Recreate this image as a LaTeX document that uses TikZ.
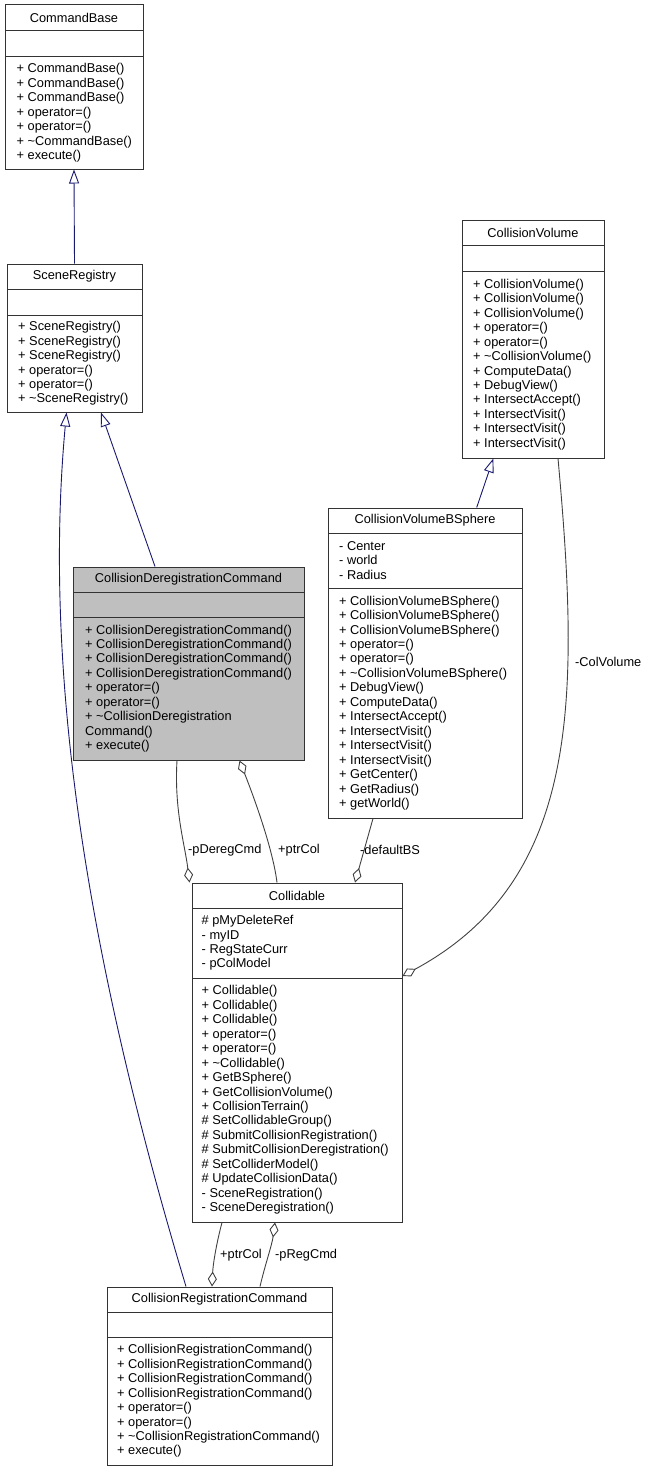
\documentclass[tikz,border=0pt]{standalone}
\usepackage{fontspec}
\setmainfont{Liberation Sans}
\usetikzlibrary{arrows.meta}

\definecolor{inhblue}{RGB}{25,25,112}
\definecolor{boxgray}{RGB}{191,191,191}
\definecolor{usegray}{RGB}{64,64,64}

\tikzset{
  classbox/.style={draw=black!80, line width=1pt, inner sep=0pt, fill=white},
  divider/.style={draw=black!80, line width=1pt},
  classname/.style={inner sep=0pt, font=\fontsize{12.8}{14.45}\selectfont},
  members/.style={anchor=west, inner sep=0pt, align=left, font=\fontsize{12.8}{14.45}\selectfont},
  rolename/.style={anchor=west, inner sep=0pt, font=\fontsize{12.8}{14.45}\selectfont},
  inherit/.style={draw=inhblue, line width=0.9pt, -{Triangle[open,length=14pt,width=10pt]}},
  usage/.style={draw=usegray, line width=0.9pt, -{Diamond[open,length=15pt,width=9pt]}},
}

\begin{document}
\begin{tikzpicture}[x=1pt,y=-1pt]
\useasboundingbox (0,0) rectangle (648,1472);

% CommandBase
\node[classbox, minimum width=138pt, minimum height=164pt] (CB) at (74,87) {};
\draw[divider] (5,31) -- (143,31);
\draw[divider] (5,57) -- (143,57);
\node[classname] (CBname) at (74,18) {CommandBase};
\node[members] (CBops) at (16.5,113) {+ CommandBase()\\+ CommandBase()\\+ CommandBase()\\+ operator=()\\+ operator=()\\+ \textasciitilde CommandBase()\\+ execute()};

% SceneRegistry
\node[classbox, minimum width=135pt, minimum height=148pt] (SR) at (74.5,338) {};
\draw[divider] (7,289) -- (142,289);
\draw[divider] (7,315) -- (142,315);
\node[classname] (SRname) at (74.5,276.5) {SceneRegistry};
\node[members] (SRops) at (18,363.5) {+ SceneRegistry()\\+ SceneRegistry()\\+ SceneRegistry()\\+ operator=()\\+ operator=()\\+ \textasciitilde SceneRegistry()};

% CollisionDeregistrationCommand
\node[classbox, fill=boxgray, minimum width=231pt, minimum height=193pt] (CDC) at (188.5,663.5) {};
\draw[divider] (73,592) -- (304,592);
\draw[divider] (73,617) -- (304,617);
\node[classname] (CDCname) at (188.5,579.5) {CollisionDeregistrationCommand};
\node[members] (CDCops) at (85,688.5) {+ CollisionDeregistrationCommand()\\+ CollisionDeregistrationCommand()\\+ CollisionDeregistrationCommand()\\+ CollisionDeregistrationCommand()\\+ operator=()\\+ operator=()\\+ \textasciitilde CollisionDeregistration\\Command()\\+ execute()};

% CollisionVolume
\node[classbox, minimum width=142pt, minimum height=238pt] (CV) at (533,339) {};
\draw[divider] (462,245) -- (604,245);
\draw[divider] (462,271) -- (604,271);
\node[classname] (CVname) at (533,232.5) {CollisionVolume};
\node[members] (CVops) at (473,364.5) {+ CollisionVolume()\\+ CollisionVolume()\\+ CollisionVolume()\\+ operator=()\\+ operator=()\\+ \textasciitilde CollisionVolume()\\+ ComputeData()\\+ DebugView()\\+ IntersectAccept()\\+ IntersectVisit()\\+ IntersectVisit()\\+ IntersectVisit()};

% CollisionVolumeBSphere
\node[classbox, minimum width=194pt, minimum height=310pt] (CVB) at (425,663) {};
\draw[divider] (328,533) -- (522,533);
\draw[divider] (328,588) -- (522,588);
\node[classname] (CVBname) at (425,520.5) {CollisionVolumeBSphere};
\node[members] (CVBattr) at (339,560.5) {- Center\\- world\\- Radius};
\node[members] (CVBops) at (339,703) {+ CollisionVolumeBSphere()\\+ CollisionVolumeBSphere()\\+ CollisionVolumeBSphere()\\+ operator=()\\+ operator=()\\+ \textasciitilde CollisionVolumeBSphere()\\+ DebugView()\\+ ComputeData()\\+ IntersectAccept()\\+ IntersectVisit()\\+ IntersectVisit()\\+ IntersectVisit()\\+ GetCenter()\\+ GetRadius()\\+ getWorld()};

% Collidable
\node[classbox, minimum width=210pt, minimum height=339pt] (Col) at (297,1052.5) {};
\draw[divider] (192,908) -- (402,908);
\draw[divider] (192,978) -- (402,978);
\node[classname] (Colname) at (297,895.5) {Collidable};
\node[members] (Colattr) at (201.5,943) {\# pMyDeleteRef\\- myID\\- RegStateCurr\\- pColModel};
\node[members] (Colops) at (201.5,1100) {+ Collidable()\\+ Collidable()\\+ Collidable()\\+ operator=()\\+ operator=()\\+ \textasciitilde Collidable()\\+ GetBSphere()\\+ GetCollisionVolume()\\+ CollisionTerrain()\\\# SetCollidableGroup()\\\# SubmitCollisionRegistration()\\\# SubmitCollisionDeregistration()\\\# SetColliderModel()\\\# UpdateCollisionData()\\- SceneRegistration()\\- SceneDeregistration()};

% CollisionRegistrationCommand
\node[classbox, minimum width=225pt, minimum height=178pt] (CRC) at (219.5,1376) {};
\draw[divider] (107,1312) -- (332,1312);
\draw[divider] (107,1337) -- (332,1337);
\node[classname] (CRCname) at (219.5,1299.5) {CollisionRegistrationCommand};
\node[members] (CRCops) at (117,1401) {+ CollisionRegistrationCommand()\\+ CollisionRegistrationCommand()\\+ CollisionRegistrationCommand()\\+ CollisionRegistrationCommand()\\+ operator=()\\+ operator=()\\+ \textasciitilde CollisionRegistrationCommand()\\+ execute()};

% inheritance
\draw[inherit] (SR.north) -- (CB.south);
\draw[inherit] ([xshift=-33.5pt]CDC.north) -- ([xshift=26.5pt]SR.south);
\draw[inherit] ([xshift=-33.5pt]CRC.north) .. controls (100,1000) and (40,700) .. ([xshift=-8pt]SR.south);
\draw[inherit] ([xshift=51.7pt]CVB.north) -- ([xshift=-39.7pt]CV.south);

% members pointing at other classes
\draw[usage] ([xshift=25pt]CV.south) .. controls (580,700) and (580,880) .. ([yshift=76.5pt]Col.east);
\draw[usage] ([xshift=-52pt]CVB.south) -- ([xshift=58pt]Col.north);
\draw[usage] ([xshift=-11.5pt]CDC.south) .. controls (174,810) and (185,845) .. ([xshift=-2pt]Col.north west);
\draw[usage] ([xshift=-20pt]Col.north) .. controls (273,850) and (255,800) .. ([xshift=51pt]CDC.south);
\draw[usage] ([xshift=-75pt]Col.south) .. controls (216,1245) and (213,1265) .. ([xshift=-7.5pt]CRC.north);
\draw[usage] ([xshift=40.5pt]CRC.north) .. controls (265,1265) and (272,1245) .. ([xshift=-22pt]Col.south);

% role names
\node[rolename] (lColVolume) at (575,662) {-ColVolume};
\node[rolename] (ldefaultBS) at (360,850) {-defaultBS};
\node[rolename] (lpDeregCmd) at (188,850) {-pDeregCmd};
\node[rolename] (lptrColA) at (278,850) {+ptrCol};
\node[rolename] (lptrColB) at (220,1255) {+ptrCol};
\node[rolename] (lpRegCmd) at (275,1255) {-pRegCmd};
\end{tikzpicture}
\end{document}
